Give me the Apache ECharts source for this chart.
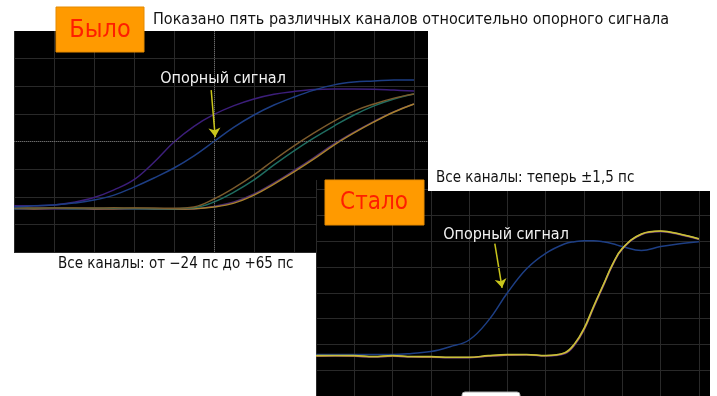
<!DOCTYPE html>
<html>
<head>
<meta charset="utf-8">
<script src="https://cdn.jsdelivr.net/npm/echarts@6/dist/echarts.min.js"></script>
<style>
  html, body { margin: 0; padding: 0; background: #fff; }
  #chart { width: 717px; height: 396px; }
</style>
</head>
<body>
<div id="chart"></div>
<script>
  // Было: деления по горизонтали (0..10) и вертикали (0..8)
  const xTop = [0, 0.5, 1, 1.5, 2, 2.5, 3, 3.5, 4, 4.5, 5, 5.5, 6, 6.5, 7, 7.5, 8, 8.5, 9, 9.5, 10]
  const topRef = [1.63, 1.67, 1.70, 1.77, 1.88, 2.06, 2.35, 2.68, 3.04, 3.48, 4.00, 4.52, 4.96, 5.32, 5.61, 5.86, 6.05, 6.15, 6.19, 6.23, 6.23]
  const topViolet = [1.67, 1.67, 1.70, 1.80, 1.97, 2.25, 2.62, 3.25, 3.98, 4.55, 4.98, 5.30, 5.54, 5.71, 5.81, 5.88, 5.90, 5.90, 5.89, 5.86, 5.83]
  const topBrown = [1.59, 1.59, 1.59, 1.59, 1.59, 1.60, 1.59, 1.59, 1.58, 1.63, 1.92, 2.32, 2.79, 3.33, 3.84, 4.31, 4.74, 5.10, 5.36, 5.57, 5.72]
  const topGreen = [1.57, 1.58, 1.58, 1.57, 1.58, 1.58, 1.57, 1.57, 1.57, 1.60, 1.81, 2.17, 2.61, 3.15, 3.66, 4.13, 4.56, 4.96, 5.29, 5.54, 5.72]
  const topOrange = [1.58, 1.57, 1.58, 1.58, 1.57, 1.57, 1.58, 1.57, 1.56, 1.57, 1.63, 1.77, 2.06, 2.46, 2.90, 3.37, 3.87, 4.31, 4.71, 5.07, 5.36]
  const topPlum = [1.56, 1.56, 1.56, 1.56, 1.55, 1.56, 1.56, 1.55, 1.55, 1.56, 1.65, 1.81, 2.10, 2.50, 2.95, 3.42, 3.91, 4.34, 4.73, 5.08, 5.36]

  // Стало
  const xBottom = [0, 0.5, 1, 1.5, 2, 2.5, 3, 3.5, 4, 4.5, 5, 5.5, 6, 6.5, 6.75, 7, 7.25, 7.5, 7.75, 8, 8.5, 9, 9.5, 10]
  const botRef = [1.61, 1.61, 1.61, 1.61, 1.61, 1.65, 1.72, 1.91, 2.17, 2.92, 4.00, 4.93, 5.53, 5.90, 5.98, 6.02, 6.02, 5.98, 5.90, 5.79, 5.64, 5.79, 5.90, 5.98]
  const botPurple = [1.54, 1.55, 1.54, 1.51, 1.54, 1.51, 1.50, 1.48, 1.48, 1.54, 1.58, 1.59, 1.55, 1.64, 1.96, 2.55, 3.41, 4.24, 5.07, 5.69, 6.25, 6.36, 6.25, 6.06]
  const botOrange = [1.55, 1.56, 1.55, 1.52, 1.55, 1.52, 1.51, 1.49, 1.49, 1.55, 1.59, 1.60, 1.56, 1.66, 1.99, 2.58, 3.44, 4.27, 5.10, 5.71, 6.27, 6.38, 6.27, 6.08]
  const botYellow = [1.57, 1.57, 1.57, 1.53, 1.57, 1.53, 1.53, 1.50, 1.50, 1.57, 1.61, 1.61, 1.57, 1.68, 2.02, 2.62, 3.48, 4.30, 5.12, 5.72, 6.28, 6.39, 6.28, 6.09]

  // стрелки «Опорный сигнал» (начало, конец)
  const arrowTop = [[4.93, 5.86], [5.03, 4.16]]
  const arrowBottom = [[4.67, 5.90], [4.86, 4.19]]

  const FONT = '"DejaVu Sans Condensed", "Liberation Sans Narrow", sans-serif'

  const pairs = (xs, ys) => xs.map((x, i) => [x, ys[i]])

  const axisCommon = {
    type: 'value',
    min: 0,
    interval: 1,
    axisLine: { show: false },
    axisTick: { show: false },
    axisLabel: { show: false },
    splitLine: { show: true, showMaxLine: false, lineStyle: { color: '#292929', width: 1 } },
  }

  const centerLines = {
    silent: true,
    symbol: 'none',
    label: { show: false },
    lineStyle: { type: 'dotted', color: '#6a6a6a', width: 1 },
    data: [{ xAxis: 5 }, { yAxis: 4 }],
  }

  const arrowLine = pts => ({
    silent: true,
    symbol: ['none', 'arrow'],
    symbolSize: 9,
    label: { show: false },
    lineStyle: { type: 'solid', color: '#c9c51c', width: 1.5 },
    data: [[{ coord: pts[0] }, { coord: pts[1] }]],
  })

  const line = (name, xs, ys, color, idx, extra) =>
    Object.assign(
      {
        name,
        type: 'line',
        xAxisIndex: idx,
        yAxisIndex: idx,
        showSymbol: false,
        smooth: 0.4,
        z: idx ? 7 : 2,
        lineStyle: { color, width: 1.5 },
        data: pairs(xs, ys),
      },
      extra || {}
    )

  const chart = echarts.init(document.getElementById('chart'))
  const option = {
    animation: false,
    backgroundColor: '#fff',
    grid: [
      { left: 14, top: 31, width: 414, height: 221, show: true, backgroundColor: '#000', borderWidth: 0, z: 0 },
      { left: 316, top: 180, width: 394, height: 224, show: true, backgroundColor: '#000', borderWidth: 0, z: 5 },
    ],
    xAxis: [
      Object.assign({}, axisCommon, { gridIndex: 0, max: 10.35 }),
      Object.assign({}, axisCommon, { gridIndex: 1, max: 10.29, z: 6 }),
    ],
    yAxis: [
      Object.assign({}, axisCommon, { gridIndex: 0, max: 8 }),
      Object.assign({}, axisCommon, { gridIndex: 1, max: 8.37, z: 6 }),
    ],
    series: [
      line('center-top', [], [], '#000', 0, { markLine: centerLines }),
      line('Канал 5', xTop, topPlum, '#4a2a6e', 0),
      line('Канал 4', xTop, topOrange, '#a8812c', 0),
      line('Канал 3', xTop, topGreen, '#1f6d60', 0),
      line('Канал 2', xTop, topBrown, '#7b5a2c', 0),
      line('Канал 1', xTop, topViolet, '#3c1e7a', 0),
      line('Опорный', xTop, topRef, '#1d3e84', 0, { markLine: arrowLine(arrowTop) }),

      line('center-bottom', [], [], '#000', 1, { markLine: centerLines }),
      line('Опорный ', xBottom, botRef, '#1d3e84', 1, { markLine: arrowLine(arrowBottom) }),
      line('Каналы (фиол.)', xBottom, botPurple, '#3c1e7a', 1),
      line('Каналы (оранж.)', xBottom, botOrange, '#c0823a', 1),
      line('Каналы (жёлт.)', xBottom, botYellow, '#c6c03a', 1),
    ],
    graphic: [
      { type: 'rect', z: 100, shape: { x: 56, y: 7, width: 88, height: 45 }, style: { fill: '#ff9a00', stroke: '#e58a00' } },
      { type: 'text', z: 101, style: { text: 'Было', x: 100, y: 30, textAlign: 'center', textVerticalAlign: 'middle', font: '25px ' + FONT, fill: '#ff1e00' } },
      { type: 'text', z: 101, style: { text: 'Показано пять различных каналов относительно опорного сигнала', x: 153, y: 20, textAlign: 'left', textVerticalAlign: 'middle', font: '16px ' + FONT, fill: '#111' } },
      { type: 'text', z: 101, style: { text: 'Опорный сигнал', x: 223, y: 79, textAlign: 'center', textVerticalAlign: 'middle', font: '16px ' + FONT, fill: '#f2f2f2' } },
      { type: 'text', z: 101, style: { text: 'Все каналы: от −24 пс до +65 пс', x: 58, y: 264, textAlign: 'left', textVerticalAlign: 'middle', font: '15px ' + FONT, fill: '#111' } },
      { type: 'rect', z: 100, shape: { x: 428, y: 150, width: 282, height: 41 }, style: { fill: '#fff' } },
      { type: 'text', z: 101, style: { text: 'Все каналы: теперь ±1,5 пс', x: 436, y: 178, textAlign: 'left', textVerticalAlign: 'middle', font: '15px ' + FONT, fill: '#111' } },
      { type: 'rect', z: 100, shape: { x: 325, y: 180, width: 99, height: 45 }, style: { fill: '#ff9a00', stroke: '#e58a00' } },
      { type: 'text', z: 101, style: { text: 'Стало', x: 374, y: 203, textAlign: 'center', textVerticalAlign: 'middle', font: '24px ' + FONT, fill: '#ff1e00' } },
      { type: 'text', z: 101, style: { text: 'Опорный сигнал', x: 506, y: 235, textAlign: 'center', textVerticalAlign: 'middle', font: '16px ' + FONT, fill: '#f2f2f2' } },
      { type: 'rect', z: 100, shape: { x: 462, y: 392, width: 58, height: 10, r: 3 }, style: { fill: '#fff', stroke: '#aaa' } },
    ],
  }
  chart.setOption(option)
</script>
</body>
</html>
